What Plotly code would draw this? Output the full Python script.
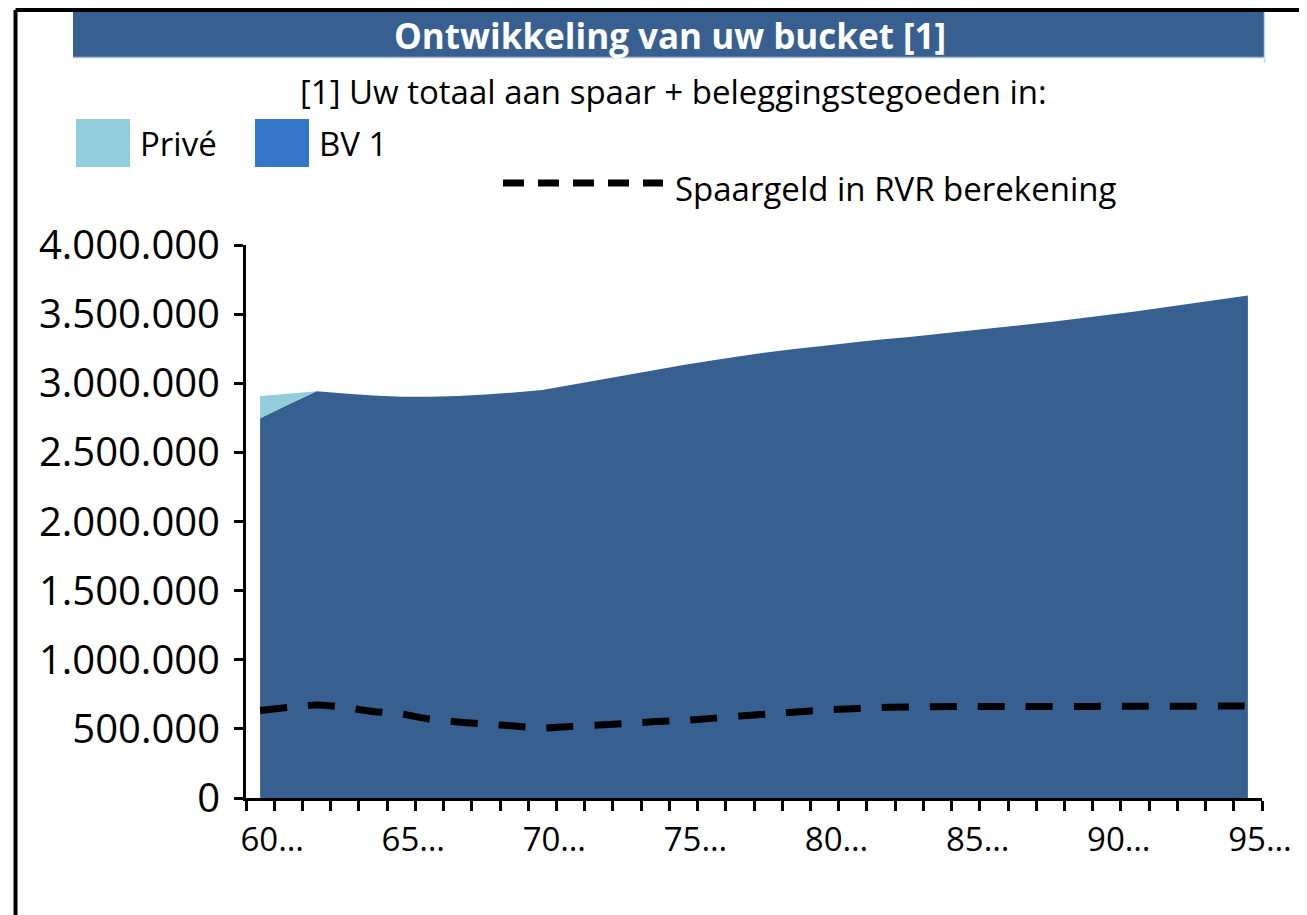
import plotly.graph_objects as go

# ---- data ----
leeftijd = list(range(60, 96))
bv1 = [2746000, 2846000, 2942000, 2926000, 2911000, 2903000, 2903000, 2908000,
       2919000, 2933000, 2951000, 2987000, 3024000, 3060000, 3096000, 3132000,
       3165000, 3196000, 3224000, 3249000, 3272000, 3295000, 3316000, 3335000,
       3356000, 3378000, 3400000, 3421000, 3443000, 3468000, 3494000, 3519000,
       3548000, 3577000, 3606000, 3635000]
prive = [162000, 78000] + [0] * 34
spaargeld_rvr = [633000, 655000, 673000, 655000, 626000, 608000, 571000, 550000,
                 535000, 521000, 506000, 517000, 528000, 539000, 553000, 562000,
                 576000, 593000, 607000, 622000, 636000, 646000, 655000, 658000,
                 660000, 662000, 662000, 662000, 662000, 662000, 663000, 663000,
                 664000, 664000, 665000, 665000]
x_tick_vals = [60, 65, 70, 75, 80, 85, 90, 95]
x_tick_text = ["60…", "65…", "70…", "75…", "80…", "85…", "90…", "95…"]
y_tick_vals = [0, 500000, 1000000, 1500000, 2000000, 2500000, 3000000, 3500000, 4000000]

title_text = "Ontwikkeling van uw bucket [1]"
subtitle_text = "[1] Uw totaal aan spaar + beleggingstegoeden in:"
legend_names = ["Privé", "BV 1", "Spaargeld in RVR berekening"]

# ---- layout geometry (pixels, page coordinates; page has 8px body margin) ----
OFF = 8
W, H = 1307 - OFF, 915 - OFF
ML, MR, MT, MB = 246 - OFF, 1307 - 1262, 245 - OFF, 915 - 798
PW, PH = W - ML - MR, H - MT - MB


def px(xp):
    return (xp - OFF - ML) / PW


def py(yp):
    return (H - MB - (yp - OFF)) / PH


FONT = "Open Sans"
AREA = "#376091"
LIGHT = "#92CDDC"
LEG_BV = "#3476C8"

fig = go.Figure()
fig.add_trace(go.Scatter(x=leeftijd, y=bv1, name=legend_names[1], stackgroup="a",
                         mode="none", fillcolor=AREA, showlegend=False))
fig.add_trace(go.Scatter(x=leeftijd, y=prive, name=legend_names[0], stackgroup="a",
                         mode="none", fillcolor=LIGHT, showlegend=False))
fig.add_trace(go.Scatter(x=leeftijd, y=spaargeld_rvr, name=legend_names[2], mode="lines",
                         line=dict(color="black", width=7, dash="27px,21px",
                                   shape="spline", smoothing=0.8),
                         showlegend=False))

shapes = [
    # outer frame
    dict(type="line", xref="paper", yref="paper", x0=px(15.5), x1=px(1320),
         y0=py(10), y1=py(10), line=dict(color="black", width=4)),
    dict(type="line", xref="paper", yref="paper", x0=px(15.5), x1=px(15.5),
         y0=py(10), y1=py(930), line=dict(color="black", width=4)),
    # title banner
    dict(type="rect", xref="paper", yref="paper", x0=px(73), x1=px(1264),
         y0=py(57), y1=py(12), fillcolor=AREA, line=dict(width=0)),
    dict(type="line", xref="paper", yref="paper", x0=px(73), x1=px(1264),
         y0=py(57.5), y1=py(57.5), line=dict(color="#A9BCD3", width=1.5)),
    dict(type="line", xref="paper", yref="paper", x0=px(1264.5), x1=px(1264.5),
         y0=py(12), y1=py(63), line=dict(color="#C9D4E3", width=1.5)),
    # legend swatches
    dict(type="rect", xref="paper", yref="paper", x0=px(76), x1=px(130),
         y0=py(167), y1=py(119), fillcolor=LIGHT, line=dict(width=0)),
    dict(type="rect", xref="paper", yref="paper", x0=px(255), x1=px(309),
         y0=py(167), y1=py(119), fillcolor=LEG_BV, line=dict(width=0)),
    dict(type="line", xref="paper", yref="paper", x0=px(503), x1=px(663),
         y0=py(183), y1=py(183), line=dict(color="black", width=7, dash="21px,14px")),
]

annotations = [
    dict(text="<b>" + title_text + "</b>", xref="paper", yref="paper", x=px(670), y=py(35),
         xanchor="center", yanchor="middle", showarrow=False,
         font=dict(family=FONT, size=35, color="white")),
    dict(text=subtitle_text, xref="paper", yref="paper", x=px(673), y=py(92),
         xanchor="center", yanchor="middle", showarrow=False,
         font=dict(family=FONT, size=33, color="black")),
    dict(text=legend_names[0], xref="paper", yref="paper", x=px(138), y=py(143),
         xanchor="left", yanchor="middle", showarrow=False,
         font=dict(family=FONT, size=33, color="black")),
    dict(text=legend_names[1], xref="paper", yref="paper", x=px(317), y=py(143),
         xanchor="left", yanchor="middle", showarrow=False,
         font=dict(family=FONT, size=33, color="black")),
    dict(text=legend_names[2], xref="paper", yref="paper", x=px(673), y=py(188),
         xanchor="left", yanchor="middle", showarrow=False,
         font=dict(family=FONT, size=33, color="black")),
]

fig.update_layout(
    width=W, height=H,
    margin=dict(l=ML, r=MR, t=MT, b=MB, pad=0),
    paper_bgcolor="white", plot_bgcolor="white",
    separators=",.",
    shapes=shapes, annotations=annotations,
    showlegend=False,
    font=dict(family=FONT, color="black"),
)
fig.update_xaxes(
    range=[59.5, 95.5], showgrid=False, zeroline=False,
    showline=True, linecolor="black", linewidth=3,
    tickmode="array", tickvals=x_tick_vals, ticktext=x_tick_text,
    ticks="", ticklabelshift=12, ticklabelstandoff=10,
    tickfont=dict(family=FONT, size=33, color="black"),
    minor=dict(ticks="outside", tick0=59.5, dtick=1, ticklen=10, tickwidth=3,
               tickcolor="black", showgrid=False),
)
fig.update_yaxes(
    range=[0, 4000000], showgrid=False, zeroline=False,
    showline=True, linecolor="black", linewidth=3,
    tickmode="array", tickvals=y_tick_vals, tickformat=",d",
    ticks="outside", ticklen=9, tickwidth=3, tickcolor="black",
    ticklabelstandoff=6,
    tickfont=dict(family=FONT, size=40, color="black"),
)

fig.write_html("out.html")
